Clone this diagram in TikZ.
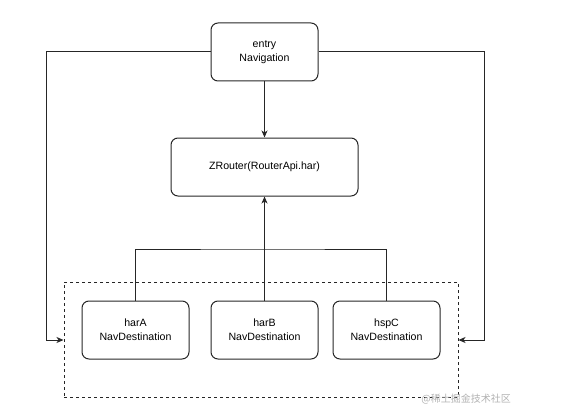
\documentclass[tikz,border=0pt]{standalone}
\usepackage{fontspec}
\setmainfont{Liberation Sans}
\newfontfamily\cjk{Noto Sans CJK SC}
\usetikzlibrary{arrows.meta}
\begin{document}
\begin{tikzpicture}[x=1pt,y=-1pt,
  box/.style={draw=black!85,line width=1pt,rounded corners=7pt,align=center,font=\fontsize{10.6}{14}\selectfont,inner sep=0pt},
  conn/.style={draw=black!85,line width=1pt},
  arr/.style={conn,-{Stealth[length=7pt,width=6pt,inset=2pt]}}]
\useasboundingbox (0,0) rectangle (561,417);
\node[box,minimum width=107pt,minimum height=58pt] (entry) at (264.5,52) {entry\\Navigation};
\node[box,minimum width=187pt,minimum height=58pt] (zr) at (264.5,167) {ZRouter(RouterApi.har)};
\node[draw=black!85,line width=1pt,dashed,minimum width=394pt,minimum height=115pt,inner sep=0pt] (grp) at (261,339.5) {};
\node[box,minimum width=107pt,minimum height=58pt] (a) at (135.5,330) {harA\\NavDestination};
\node[box,minimum width=107pt,minimum height=58pt] (b) at (264.5,330) {harB\\NavDestination};
\node[box,minimum width=107pt,minimum height=58pt] (c) at (386.5,330) {hspC\\NavDestination};
\coordinate (bus) at (264.5,249);
\draw[arr] (entry) -- (zr);
\draw[arr] (b) -- (zr);
\draw[conn] (a.north) |- (bus) -| (c.north);
\draw[arr] (entry.west) -| (46,340) -- (grp.west|-0,340);
\draw[arr] (entry.east) -| (484,340) -- (grp.east|-0,340);
\node[anchor=east,text=black!30,font=\cjk\fontsize{10}{12}\selectfont,inner sep=0pt] (wm) at (511,399) {@稀土掘金技术社区};
\end{tikzpicture}
\end{document}
